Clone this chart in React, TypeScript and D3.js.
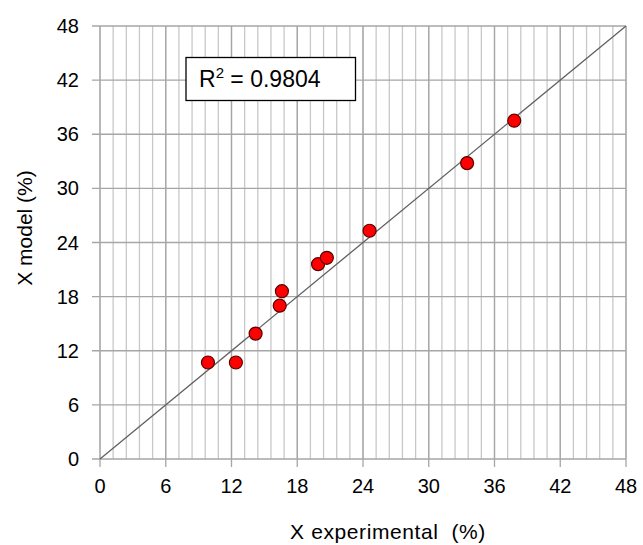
import React from "react";
import * as d3 from "d3";

const xExp = [9.85, 12.4, 14.2, 16.4, 16.6, 19.9, 20.7, 24.6, 33.5, 37.8];
const xModel = [10.7, 10.7, 13.9, 17.0, 18.6, 21.6, 22.3, 25.3, 32.8, 37.5];
const majorTicks = [0, 6, 12, 18, 24, 30, 36, 42, 48];
const minorX = d3.range(0, 48.001, 1.2);
const r2Label = "0.9804";

export default function App() {
  const W = 643, H = 545;
  const x = d3.scaleLinear().domain([0, 48]).range([100, 626]);
  const y = d3.scaleLinear().domain([0, 48]).range([459, 26]);
  const font = "Liberation Sans, Arial, sans-serif";
  return (
    <svg width={W} height={H} style={{ position: "absolute", left: 0, top: 0, background: "#fff" }}>
      {minorX.map((v, i) => (
        <line key={"mx" + i} x1={x(v)} x2={x(v)} y1={y(0)} y2={y(48)} stroke="#c8c8c8" strokeWidth={1.3} />
      ))}
      {majorTicks.map((v) => (
        <line key={"gx" + v} x1={x(v)} x2={x(v)} y1={y(0) + 8} y2={y(48)} stroke="#a6a6a6" strokeWidth={1.3} />
      ))}
      {majorTicks.map((v) => (
        <line key={"gy" + v} x1={x(0) - 8} x2={x(48)} y1={y(v)} y2={y(v)} stroke="#a6a6a6" strokeWidth={1.3} />
      ))}
      <line x1={x(0)} y1={y(0)} x2={x(48)} y2={y(48)} stroke="#606060" strokeWidth={1.3} />
      {xExp.map((v, i) => (
        <circle key={"p" + i} cx={x(v)} cy={y(xModel[i])} r={6.5} fill="#ff0000" stroke="#5a0000" strokeWidth={1.2} />
      ))}
      {majorTicks.map((v) => (
        <text key={"tx" + v} x={x(v)} y={y(0) + 34} textAnchor="middle" fontFamily={font} fontSize={20} fill="#000">{v}</text>
      ))}
      {majorTicks.map((v) => (
        <text key={"ty" + v} x={x(0) - 21} y={y(v) + 7} textAnchor="end" fontFamily={font} fontSize={20} fill="#000">{v}</text>
      ))}
      <text x={388} y={539} textAnchor="middle" fontFamily={font} fontSize={21} letterSpacing={0.6} fill="#000" style={{ whiteSpace: "pre" }}>X experimental  (%)</text>
      <text transform="translate(32,228) rotate(-90)" textAnchor="middle" fontFamily={font} fontSize={21} fill="#000">X model (%)</text>
      <rect x={186} y={57.5} width={169.5} height={43} fill="#fff" stroke="#000" strokeWidth={1.3} />
      <text x={199} y={87} fontFamily={font} fontSize={23} fill="#000">R<tspan fontSize={15} dy={-9}>2</tspan><tspan dy={9}>{" = " + r2Label}</tspan></text>
    </svg>
  );
}
